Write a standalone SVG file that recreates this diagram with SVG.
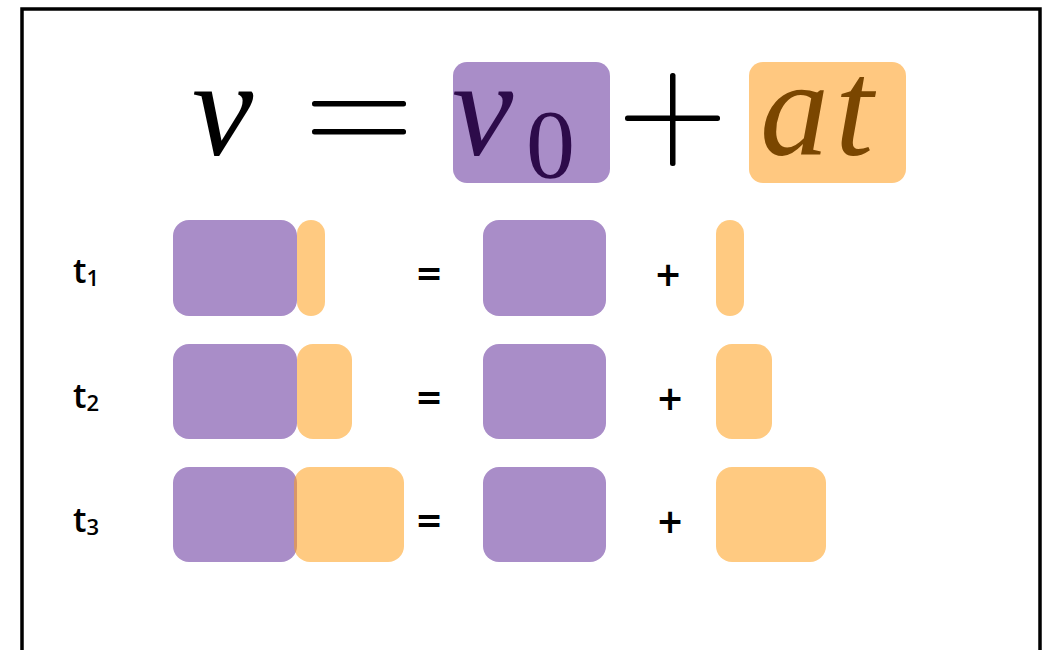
<svg xmlns="http://www.w3.org/2000/svg" width="1053" height="650" viewBox="0 0 1053 650">
<style>
.math{font-family:"Liberation Serif","DejaVu Serif",serif;font-style:italic}
.op{font-family:"Liberation Serif","DejaVu Serif",serif}
.lbl{font-family:"Open Sans","Liberation Sans",sans-serif;font-weight:600;fill:#000}
.sym{font-family:"DejaVu Sans","Liberation Sans",sans-serif;font-weight:bold;font-size:33px;fill:#000;text-anchor:middle}
.p{fill:#a98dc8}
.o{fill:#ff9e1a;fill-opacity:0.55}
</style>
<rect width="1053" height="650" fill="#fff"/>
<path d="M22 660 V9 H1040 V660" fill="none" stroke="#000" stroke-width="3.5"/>
<g id="equation">
  <text class="math" x="192" y="155" font-size="138">v</text>
  <rect x="312" y="101" width="94" height="5.5" rx="2.5" fill="#000"/>
  <rect x="312" y="129" width="94" height="5.5" rx="2.5" fill="#000"/>
  <g id="v0-term">
    <rect class="p" x="453" y="62" width="157" height="121" rx="14"/>
    <text class="math" x="452" y="155" font-size="138" fill="#2d0b4a">v</text>
    <text class="op" x="526" y="177" font-size="98" fill="#2d0b4a">0</text>
  </g>
  <rect x="625" y="115.5" width="95" height="5.5" rx="2.5" fill="#000"/>
  <rect x="670" y="73" width="5.5" height="93" rx="2.5" fill="#000"/>
  <g id="at-term">
    <rect x="749" y="62" width="157" height="121" rx="14" fill="#ffc880"/>
    <text class="math" x="760" y="155" font-size="138" fill="#7a4600">a</text>
    <text class="math" x="835" y="155" font-size="138" fill="#7a4600">t</text>
  </g>
</g>
<g id="row1">
  <text class="lbl" x="73" y="283" font-size="34">t<tspan font-size="22" dy="3">1</tspan></text>
  <rect class="p" x="173" y="220" width="124" height="96" rx="16"/>
  <rect class="o" x="297" y="220" width="28" height="96" rx="14"/>
  <text class="sym" x="429" y="285">=</text>
  <rect class="p" x="483" y="220" width="123" height="96" rx="16"/>
  <text class="sym" x="668" y="286">+</text>
  <rect class="o" x="716" y="220" width="28" height="96" rx="14"/>
</g>
<g id="row2">
  <text class="lbl" x="73" y="408" font-size="34">t<tspan font-size="22" dy="3">2</tspan></text>
  <rect class="p" x="173" y="344" width="124" height="95" rx="16"/>
  <rect class="o" x="297" y="344" width="55" height="95" rx="16"/>
  <text class="sym" x="429" y="409">=</text>
  <rect class="p" x="483" y="344" width="123" height="95" rx="16"/>
  <text class="sym" x="670" y="410">+</text>
  <rect class="o" x="716" y="344" width="56" height="95" rx="16"/>
</g>
<g id="row3">
  <text class="lbl" x="73" y="532" font-size="34">t<tspan font-size="22" dy="3">3</tspan></text>
  <rect class="p" x="173" y="467" width="124" height="95" rx="16"/>
  <rect class="o" x="294" y="467" width="110" height="95" rx="16"/>
  <text class="sym" x="429" y="532">=</text>
  <rect class="p" x="483" y="467" width="123" height="95" rx="16"/>
  <text class="sym" x="670" y="533">+</text>
  <rect class="o" x="716" y="467" width="110" height="95" rx="16"/>
</g>
<g id="connectors"/>
</svg>
